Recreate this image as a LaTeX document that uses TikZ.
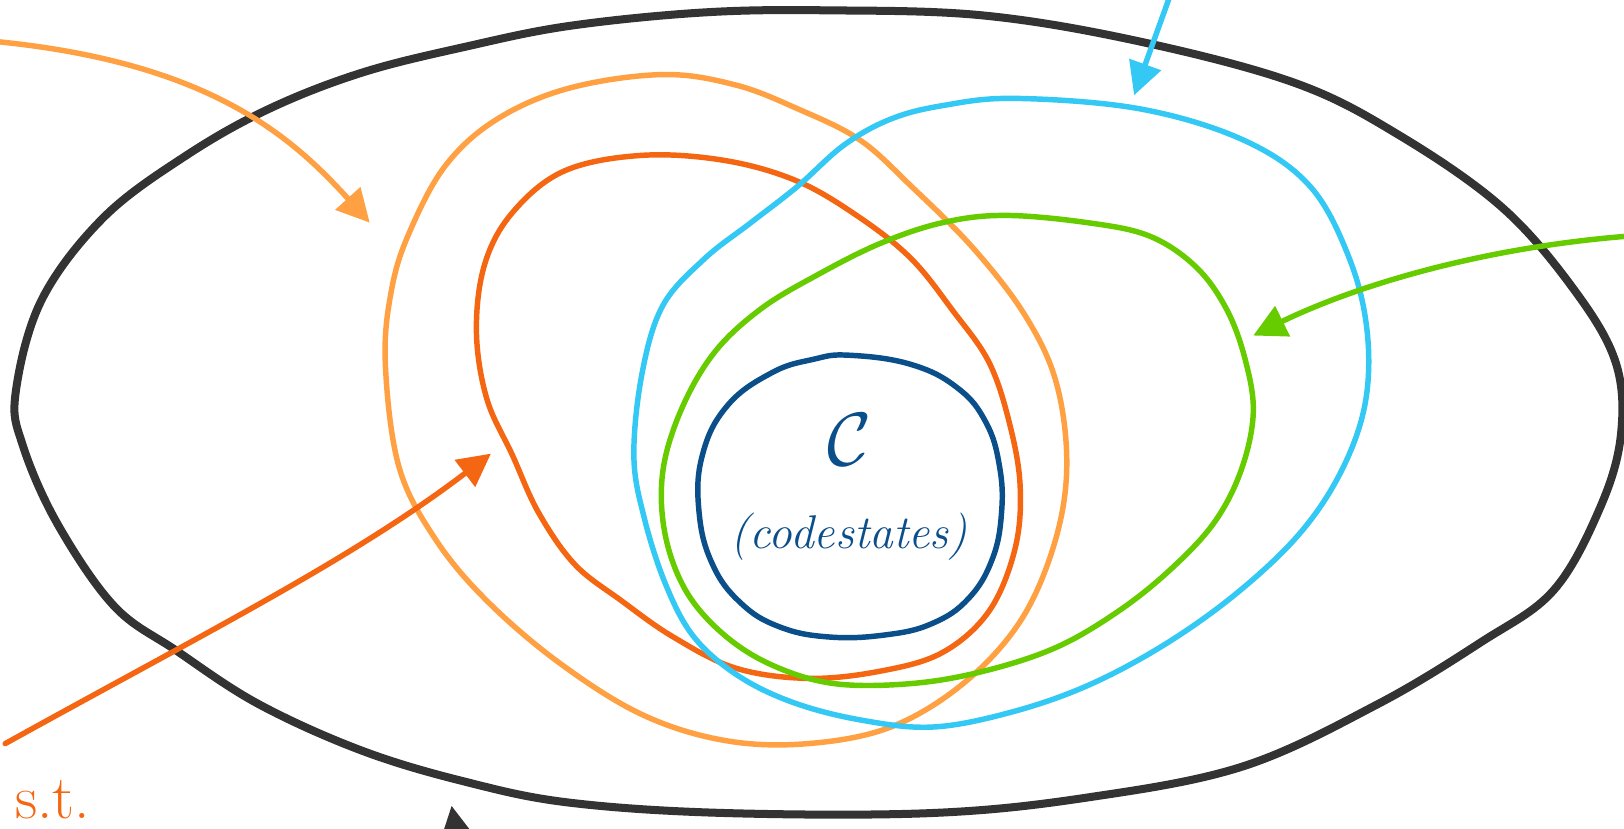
\documentclass[tikz,border=0pt]{standalone}
\usepackage{amsmath}
\usepackage{tikz}
\usetikzlibrary{arrows.meta}
\definecolor{SketchInk}{RGB}{51,51,51}
\definecolor{SketchPeach}{RGB}{255,160,66}
\definecolor{SketchOrange}{RGB}{245,102,18}
\definecolor{SketchSky}{RGB}{52,200,245}
\definecolor{SketchLime}{RGB}{102,204,0}
\definecolor{SketchNavy}{RGB}{10,78,138}
\begin{document}
\begin{tikzpicture}[x=0.1mm,y=-0.1mm,line cap=round,line join=round,
  ring/.style={#1,line width=1.5pt},
  pointer/.style={#1,line width=1.5pt,-{Triangle[length=9pt,width=9pt]}}]
\useasboundingbox (0,0) rectangle (1568,800);
\clip (0,0) rectangle (1568,800);
\draw[ring=SketchInk,line width=2.2pt] plot[smooth cycle,tension=0.6] coordinates {
  (15,380) (40,290) (100,210) (180,150) (260,105) (350,70) (450,45) (550,25)
  (680,12) (800,10) (950,15) (1100,40) (1250,80) (1350,130) (1450,200)
  (1520,280) (1560,350) (1565,420) (1545,490) (1500,570) (1430,620)
  (1330,680) (1200,740) (1050,770) (900,785) (700,785) (550,775) (450,755)
  (350,725) (250,680) (170,628) (110,585) (55,505) (22,430)};
\draw[ring=SketchPeach] plot[smooth cycle,tension=0.6] coordinates {
  (372,350) (378,280) (395,225) (430,160) (480,115) (550,85) (640,72)
  (710,82) (770,105) (830,135) (880,180) (940,240) (990,305) (1020,370)
  (1030,450) (1018,525) (985,600) (930,660) (860,702) (780,718) (700,715)
  (620,690) (540,640) (470,580) (420,520) (385,450)};
\draw[ring=SketchOrange] plot[smooth cycle,tension=0.6] coordinates {
  (620,150) (700,155) (770,175) (830,210) (880,250) (920,300) (955,350)
  (975,410) (985,470) (980,530) (955,590) (910,630) (850,648) (780,655)
  (710,645) (650,615) (600,580) (555,545) (520,495) (495,440) (470,385)
  (460,320) (468,255) (495,205) (545,165)};
\draw[ring=SketchSky] plot[smooth cycle,tension=0.6] coordinates {
  (980,95) (1100,105) (1200,135) (1265,180) (1303,250) (1320,320)
  (1318,390) (1295,455) (1255,515) (1195,572) (1125,622) (1050,662)
  (975,688) (900,702) (830,695) (765,678) (712,652) (670,615) (643,565)
  (622,500) (612,440) (620,360) (640,295) (680,250) (725,215) (770,180)
  (815,140) (860,115) (910,102)};
\draw[ring=SketchLime] plot[smooth cycle,tension=0.6] coordinates {
  (970,208) (1050,215) (1110,228) (1155,258) (1185,300) (1203,350)
  (1210,400) (1198,455) (1172,505) (1130,550) (1080,590) (1020,625)
  (950,648) (880,660) (805,660) (745,642) (698,612) (662,570) (642,515)
  (640,455) (658,395) (690,340) (735,298) (790,265) (850,235) (910,215)};
\draw[ring=SketchNavy] plot[smooth cycle,tension=0.7] coordinates {
  (820,343) (880,352) (925,375) (952,408) (965,450) (967,495) (958,540)
  (935,578) (900,602) (855,613) (800,615) (752,605) (715,582) (688,545)
  (675,495) (678,440) (702,392) (745,360) (785,347)};
\node[SketchNavy,font=\fontsize{22}{24}\selectfont] (codeset) at (820,425) {$\mathcal{C}$};
\node[SketchNavy,font=\fontsize{13}{15}\selectfont\itshape] (codelabel) at (820,518) {(codestates)};
\node[SketchOrange,font=\fontsize{17}{19}\selectfont,anchor=base west,inner sep=0pt] (such) at (14,790) {s.t.};
\coordinate (peachstart) at (-5,40);
\coordinate (peachend) at (357,215);
\draw[pointer=SketchPeach] (peachstart) .. controls (200,60) and (280,130) .. (peachend);
\coordinate (orangestart) at (5,718);
\coordinate (orangeend) at (474,438);
\draw[pointer=SketchOrange] (orangestart) .. controls (200,610) and (340,540) .. (orangeend);
\coordinate (skystart) at (1130,-5);
\coordinate (skyend) at (1095,92);
\draw[pointer=SketchSky] (skystart) -- (skyend);
\coordinate (limestart) at (1572,228);
\coordinate (limeend) at (1210,324);
\draw[pointer=SketchLime] (limestart) .. controls (1420,240) and (1300,280) .. (limeend);
\coordinate (inkstart) at (445,830);
\coordinate (inkend) at (436,778);
\draw[pointer=SketchInk] (inkstart) -- (inkend);
\end{tikzpicture}
\end{document}
